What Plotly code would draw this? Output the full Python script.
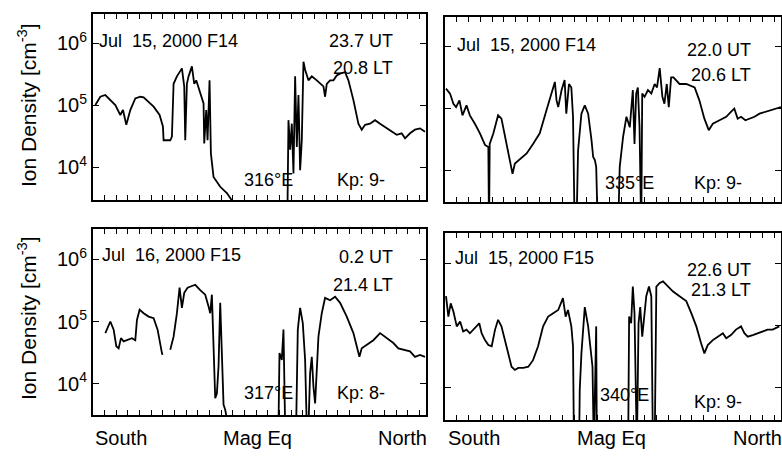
import plotly.graph_objects as go

W, H = 782, 458

# ---------------- data (x: position along orbit, 0=south end, 100=north end; y: ion density cm^-3) -------------
p1_x = [0.7, 2.2, 3.7, 5.2, 6.7, 8.2, 9.0, 10.0, 11.2, 12.7, 14.2, 15.2, 16.7, 18.2, 20.0, 21.0, 21.2, 23.2, 23.7,
        24.2, 25.2, 26.7, 27.4, 27.7, 28.2, 28.7, 29.7, 30.4, 31.0, 31.7, 32.7, 33.2, 33.4, 34.0, 34.4, 35.0, 35.4,
        36.2, 38.2, 40.2, 41.7, 42.5, 58.4, 58.7, 59.2, 59.7, 60.2, 60.7, 61.2, 61.7, 62.2, 62.7, 63.2, 63.7, 64.7,
        65.7, 67.2, 68.2, 69.2, 69.7, 70.2, 71.2, 72.2, 73.2, 74.2, 75.7, 76.7, 78.2, 79.7, 80.7, 81.7, 83.2, 84.7,
        86.2, 88.2, 89.7, 91.2, 92.7, 93.7, 95.2, 96.7, 98.2, 99.7]
p1_n = [1.0e5, 1.36e5, 1.45e5, 1.2e5, 1.0e5, 6.9e4, 8.3e4, 4.8e4, 8.3e4, 1.28e5, 1.36e5, 1.33e5, 1.13e5, 9.4e4,
        6.9e4, 4.5e4, 2.7e4, 2.7e4, 3.1e4, 2.2e5, 2.9e5, 3.9e5, 2.0e5, 2.7e4, 2.2e5, 2.9e5, 4.2e5, 2.2e5, 2.5e5,
        1.9e5, 1.36e5, 1.06e5, 2.4e4, 8.3e4, 2.7e4, 2.5e5, 1.66e4, 6.9e3, 4.8e3, 3.8e3, 2.9e3, 2.0e3, 2.0e3, 5.7e4,
        1.9e4, 5.0e4, 7.9e3, 2.9e5, 2.1e4, 1.45e5, 8.9e3, 2.7e4, 5.0e5, 3.7e5, 2.5e5, 2.9e5, 2.5e5, 2.2e5, 2.0e5,
        1.36e5, 2.2e5, 2.5e5, 2.5e5, 3.0e5, 3.2e5, 3.4e5, 2.5e5, 1.2e5, 5.0e4, 4.0e4, 4.8e4, 5.0e4, 5.7e4, 5.0e4,
        4.2e4, 3.7e4, 3.3e4, 3.5e4, 2.9e4, 3.5e4, 4.0e4, 4.2e4, 3.7e4]

p2_x = [0.3, 1.5, 2.5, 3.3, 4.3, 5.2, 6.4, 7.4, 8.9, 10.4, 11.9, 12.9, 13.1, 13.3, 14.4, 15.8, 16.8, 18.3, 19.3, 20.1,
        20.8, 22.3, 24.3, 26.2, 28.2, 30.2, 31.7, 32.7, 33.2, 33.7, 34.7, 35.6, 36.1, 36.9, 37.6, 38.1, 38.6, 39.1,
        39.6, 40.6, 41.6, 42.6, 43.6, 44.1, 44.6, 45.0, 45.5, 51.5, 52.0, 53.0, 54.0, 55.0, 55.9, 56.4, 56.9, 57.4,
        57.9, 58.4, 58.7, 59.4, 60.4, 61.4, 62.4, 63.1, 63.9, 64.7, 65.3, 66.0, 66.6, 67.3, 68.0, 69.8, 71.8, 74.3,
        75.7, 77.2, 78.5, 79.7, 81.7, 83.7, 85.1, 86.1, 87.1, 88.1, 89.4, 90.6, 92.1, 93.6, 95.5, 97.5, 99.0, 100.0]
p2_n = [2.1e5, 1.75e5, 1.2e5, 1.06e5, 1.36e5, 7.8e4, 1.13e5, 7.8e4, 5.7e4, 4.0e4, 2.6e4, 2.4e4, 1.0e3, 2.7e4,
        4.0e4, 7.8e4, 6.9e4, 2.7e4, 1.3e4, 8.9e3, 1.3e4, 1.55e4, 1.9e4, 2.7e4, 4.0e4, 9.4e4, 1.75e5, 2.7e5, 1.36e5,
        1.06e5, 2.0e5, 2.9e5, 8.3e4, 2.5e5, 2.2e5, 7.4e4, 1.0e3, 1.0e3, 2.1e4, 8.3e4, 1.13e5, 8.3e4, 3.1e4, 1.66e4,
        1.48e4, 1.15e4, 1.0e3, 1.0e3, 1.15e4, 3.5e4, 7.4e4, 5.0e4, 2.0e5, 2.7e4, 1.75e5, 2.2e5, 5.0e4, 1.0e3,
        1.75e5, 1.55e5, 2.0e5, 1.75e5, 2.5e5, 2.2e5, 4.5e5, 1.55e5, 1.2e5, 2.5e5, 1.06e5, 3.2e5, 3.2e5, 2.5e5,
        2.5e5, 2.2e5, 1.36e5, 6.9e4, 4.5e4, 5.7e4, 6.5e4, 7.4e4, 8.9e4, 1.0e5, 6.9e4, 7.4e4, 6.5e4, 6.9e4, 7.4e4,
        8.3e4, 8.9e4, 9.4e4, 1.0e5, 1.06e5]

p3_x = [3.7, 5.2, 6.2, 7.0, 7.7, 8.4, 9.2, 10.2, 11.7, 12.7, 13.2, 14.0, 15.2, 16.7, 18.2, 19.4, 20.2, 20.7, 20.9,
        None, 23.2, 24.2, 25.2, 26.0, 26.7, 27.4, 28.4, 29.7, 30.7, 32.2, 33.7, 34.7, 35.2, 35.7, 36.2, 36.7, 37.2,
        37.7, 38.2, 38.7, 39.2, 39.7, 40.7, 55.7, 56.0, 56.7, 57.2, 57.7, 61.0, 61.5, 62.2, 63.0, 63.7, 64.2, 64.7,
        65.2, 65.7, 66.2, 66.7, 67.7, 68.7, 69.7, 71.2, 72.7, 74.2, 76.2, 78.2, 79.2, 80.0, 80.7, 82.2, 84.2, 86.2,
        88.2, 90.2, 91.7, 93.2, 95.2, 96.7, 98.2, 99.7]
p3_n = [6.5e4, 1.0e5, 7.4e4, 4.0e4, 3.7e4, 5.4e4, 4.8e4, 5.0e4, 5.4e4, 5.0e4, 1.06e5, 1.55e5, 1.36e5, 1.2e5, 1.13e5,
        7.4e4, 4.0e4, 3.1e4, 2.9e4, None, 3.5e4, 5.7e4, 1.36e5, 3.5e5, 1.66e5, 2.9e5, 3.5e5, 3.7e5, 3.9e5, 3.2e5,
        2.7e5, 1.75e5, 1.36e5, 2.7e5, 4.0e4, 5.8e3, 6.9e3, 1.9e4, 2.0e5, 4.0e4, 4.6e3, 3.8e3, 2.0e3, 2.0e3, 3.1e4,
        2.4e4, 7.4e4, 2.0e3, 2.0e3, 7.4e4, 1.66e5, 9.4e4, 2.4e4, 2.0e3, 2.0e3, 1.48e4, 2.7e4, 8.9e3, 4.8e3, 5.7e4,
        1.36e5, 2.4e5, 2.2e5, 2.5e5, 2.0e5, 1.2e5, 6.5e4, 4.0e4, 2.7e4, 3.7e4, 4.2e4, 5.0e4, 6.5e4, 5.4e4, 4.5e4,
        3.7e4, 3.5e4, 3.3e4, 2.7e4, 2.9e4, 2.7e4]

p4_x = [0.3, 1.0, 1.7, 2.5, 3.5, 4.5, 5.4, 6.4, 7.4, 8.4, 9.4, 10.2, 10.9, 11.9, 12.9, 13.9, 14.9, 15.8, 16.8, 17.8,
        18.8, 19.8, 20.8, 21.8, 23.3, 24.8, 26.2, 27.7, 29.2, 30.7, 32.2, 33.7, 35.1, 35.9, 36.6, 37.6, 38.1, 38.4,
        39.9, 40.1, 40.6, 41.6, 42.6, 43.3, 43.9, 44.3, 44.6, 45.0, 45.2, 54.5, 54.8, 55.4, 55.9, 56.4, 57.1, 57.6,
        58.1, 58.7, 59.2, 59.9, 60.7, 61.4, 61.9, 62.4, 62.9, 63.9, 64.9, 66.3, 67.8, 69.8, 71.8, 73.3, 74.8, 76.2,
        77.2, 78.2, 79.7, 81.2, 82.7, 83.7, 85.1, 86.6, 88.1, 89.1, 90.1, 91.6, 93.1, 94.6, 96.0, 97.5, 99.5]
p4_n = [3.0e5, 1.41e5, 2.3e5, 1.7e5, 9.8e4, 1.17e5, 8.1e4, 8.7e4, 7.6e4, 8.7e4, 9.8e4, 1.1e5, 7.6e4, 5.9e4, 4.9e4,
        4.7e4, 8.7e4, 1.25e5, 9.8e4, 5.9e4, 3.6e4, 2.2e4, 1.95e4, 2.1e4, 2.1e4, 2.2e4, 2.8e4, 4.7e4, 9.8e4, 1.41e5,
        1.6e5, 1.8e5, 2.8e5, 1.41e5, 1.8e5, 9.8e4, 4.7e4, 1.0e3, 1.0e3, 9.3e3, 3.6e4, 2.0e5, 9.8e4, 4.7e4, 2.2e4,
        1.0e3, 1.7e4, 9.8e4, 1.0e3, 1.0e3, 1.41e5, 1.1e5, 4.3e5, 1.6e5, 1.0e3, 1.1e5, 2.0e5, 6.7e4, 1.25e5, 3.0e5,
        4.3e5, 3.0e5, 1.0e3, 1.0e3, 4.3e5, 4.9e5, 5.2e5, 4.3e5, 3.6e5, 3.0e5, 2.5e5, 1.6e5, 9.8e4, 5.3e4, 3.6e4,
        4.9e4, 5.9e4, 6.7e4, 7.6e4, 6.3e4, 7.1e4, 8.7e4, 9.8e4, 7.6e4, 6.7e4, 7.1e4, 7.6e4, 8.1e4, 8.7e4, 8.7e4,
        9.8e4]

dates = ["Jul  15, 2000 F14", "Jul  15, 2000 F14", "Jul  16, 2000 F15", "Jul  15, 2000 F15"]
ut_labels = ["23.7 UT", "22.0 UT", "0.2 UT", "22.6 UT"]
lt_labels = ["20.8 LT", "20.6 LT", "21.4 LT", "21.3 LT"]
lon_labels = ["316°E", "335°E", "317°E", "340°E"]
kp_labels = ["Kp: 9-", "Kp: 9-", "Kp: 8-", "Kp: 9-"]
x_labels = ["South", "Mag Eq", "North"]
x_label_pos = [8.5, 49.5, 93.0]
y_tickvals = [1e4, 1e5, 1e6]
y_ticktext = ["10<sup>4</sup>", "10<sup>5</sup>", "10<sup>6</sup>"]
y_title = "Ion Density [cm<sup>-3</sup>]"

xs = [p1_x, p2_x, p3_x, p4_x]
ns = [p1_n, p2_n, p3_n, p4_n]

# ---------------- layout geometry (pixels) ----------------
# plot areas: (left, right, top, bottom)
boxes = [(93, 426, 14, 200), (445, 781, 17, 202), (93, 426, 229, 415), (445, 781, 233, 420)]
yranges = [[3.468, 6.468], [3.495, 6.478], [3.495, 6.489], [3.484, 6.495]]

FONT = "Liberation Sans, Arial, Helvetica, sans-serif"

def px(x):
    return x / W

def py(y):
    return 1 - y / H

fig = go.Figure()
annotations = []

for i in range(4):
    sfx = "" if i == 0 else str(i + 1)
    xa, ya = "x" + sfx, "y" + sfx
    fig.add_trace(go.Scatter(x=xs[i], y=ns[i], mode="lines", xaxis=xa, yaxis=ya,
                             line=dict(color="black", width=1.8), connectgaps=False,
                             showlegend=False, hoverinfo="skip"))
    l, r, t, b = boxes[i]
    fig.layout["xaxis" + sfx] = dict(domain=[px(l), px(r)], range=[0, 100], anchor=ya,
                                     showline=True, linecolor="black", linewidth=2, mirror="ticks",
                                     ticks="inside", ticklen=5, tickwidth=1.3, tickcolor="black",
                                     dtick=3.5, tick0=0, showticklabels=False, showgrid=False, zeroline=False)
    fig.layout["yaxis" + sfx] = dict(domain=[py(b), py(t)], type="log", range=yranges[i], anchor=xa,
                                     showline=True, linecolor="black", linewidth=2, mirror="ticks",
                                     ticks="inside", ticklen=6, tickwidth=1.3, tickcolor="black",
                                     tickmode="array", tickvals=y_tickvals, ticktext=y_ticktext,
                                     showticklabels=(i % 2 == 0), showgrid=False, zeroline=False,
                                     tickfont=dict(family=FONT, size=20, color="black"))

# text inside panels (pixel anchor positions)
date_pos = [(97, 41), (455, 45), (100, 255), (453, 258)]
ut_pos = [(395, 41), (753, 50), (395, 257), (753, 270)]
lt_pos = [(395, 68), (753, 75), (395, 285), (753, 290)]
lon_pos = [(242, 180), (603, 183), (242, 393), (598, 395)]
kp_pos = [(335, 180), (692, 183), (335, 393), (692, 402)]

def add_text(text, x, y, xanchor, size=18, **kw):
    annotations.append(dict(text=text, x=px(x), y=py(y), xref="paper", yref="paper", showarrow=False,
                            xanchor=xanchor, yanchor="middle", font=dict(family=FONT, size=size, color="black"),
                            **kw))

for i in range(4):
    add_text(dates[i], *date_pos[i], "left")
    add_text(ut_labels[i], *ut_pos[i], "right")
    add_text(lt_labels[i], *lt_pos[i], "right")
    add_text(lon_labels[i], *lon_pos[i], "left")
    add_text(kp_labels[i], *kp_pos[i], "left")

# bottom x labels (in data units along the x axes of bottom panels)
for ax in ["x3", "x4"]:
    for lab, pos in zip(x_labels, x_label_pos):
        annotations.append(dict(text=lab, x=pos, y=py(438), xref=ax, yref="paper", showarrow=False,
                                xanchor="center", yanchor="middle",
                                font=dict(family=FONT, size=20, color="black")))

# y axis titles
for yc in [105, 318]:
    add_text(y_title, 27, yc, "center", size=21, textangle=-90)

fig.update_layout(width=W, height=H, margin=dict(l=0, r=0, t=0, b=0),
                  plot_bgcolor="white", paper_bgcolor="white", annotations=annotations,
                  font=dict(family=FONT, color="black"))

fig.write_html("out.html", config={"displayModeBar": False},
               post_script="document.body.style.margin='0';document.body.style.overflow='hidden';")
